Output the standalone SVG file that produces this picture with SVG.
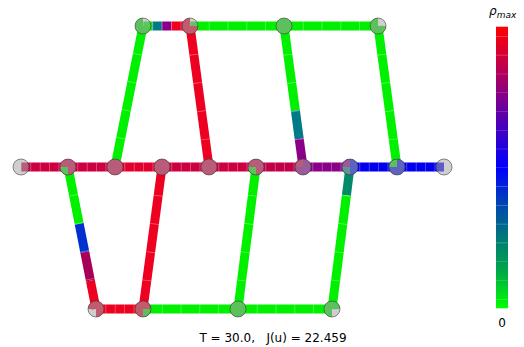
<svg xmlns="http://www.w3.org/2000/svg" width="524" height="347" viewBox="0 0 524 347">
<defs>
<style>
.rd{stroke-width:9;fill:none;stroke-linecap:butt}
.sep{stroke:#ffffff;stroke-opacity:0.35;stroke-width:9;fill:none}
.s47{stroke-dasharray:0.8 8.6}
.s94{stroke-dasharray:0.8 18}
.sv{stroke-dasharray:0.8 27.7}
.nd{fill:#a8a8a8;fill-opacity:0.55;stroke:#404040;stroke-opacity:0.6;stroke-width:1}
.g{stroke:#00f000}.r{stroke:#ee0020}.c{stroke:#cc0040}.p{stroke:#8a0088}.b{stroke:#0000ee}.t{stroke:#007a86}.m{stroke:#a80058}
.fg{fill:#00e000}.fr{fill:#e00028}.fc{fill:#cc0040}.fp{fill:#880088}.fb{fill:#0010e0}.ft{fill:#008070}
.lbl{font-family:"DejaVu Sans",sans-serif;fill:#000}
</style>
<path id="xTR" d="M0,0 L8,0 A8,8 0 1 1 0,-8 Z"/>
<path id="xBL" d="M0,0 L-8,0 A8,8 0 1 1 0,8 Z"/>
<path id="xBR" d="M0,0 L0,8 A8,8 0 1 1 8,0 Z"/>
<path id="qBL" d="M0,0 L0,8 A8,8 0 0 1 -8,0 Z"/>
<path id="qTL" d="M0,0 L-8,0 A8,8 0 0 1 0,-8 Z"/>
<path id="qBR" d="M0,0 L8,0 A8,8 0 0 1 0,8 Z"/>
<linearGradient id="cmap" x1="0" y1="0" x2="0" y2="1">
<stop offset="0" stop-color="#ff0000"/>
<stop offset="0.12" stop-color="#cc0040"/>
<stop offset="0.26" stop-color="#7a0090"/>
<stop offset="0.38" stop-color="#3a00c8"/>
<stop offset="0.5" stop-color="#0000ff"/>
<stop offset="0.62" stop-color="#0040b8"/>
<stop offset="0.75" stop-color="#007878"/>
<stop offset="0.87" stop-color="#00a848"/>
<stop offset="1" stop-color="#00ff00"/>
</linearGradient>
</defs>
<rect width="524" height="347" fill="#ffffff"/>
<g id="connectors">
<line class="rd g" x1="143" y1="26" x2="152.4" y2="26"/>
<line class="rd t" x1="152.4" y1="26" x2="161.8" y2="26"/>
<line class="rd p" x1="161.8" y1="26" x2="171.2" y2="26"/>
<line class="rd r" x1="171.2" y1="26" x2="190" y2="26"/>
<line class="sep s47" x1="143" y1="26" x2="190" y2="26"/>
<line class="rd g" x1="190" y1="26" x2="378" y2="26"/>
<line class="sep s94" x1="190" y1="26" x2="284" y2="26"/>
<line class="sep s94" x1="284" y1="26" x2="378" y2="26"/>
<line class="rd g" x1="143" y1="26" x2="115" y2="167"/>
<line class="sep sv" x1="143" y1="26" x2="115" y2="167"/>
<line class="rd r" x1="190" y1="26" x2="209" y2="167"/>
<line class="sep sv" x1="190" y1="26" x2="209" y2="167"/>
<line class="rd g" x1="284" y1="26" x2="295.4" y2="110.6"/>
<line class="rd t" x1="295.4" y1="110.6" x2="299.2" y2="138.8"/>
<line class="rd p" x1="299.2" y1="138.8" x2="303" y2="167"/>
<line class="sep sv" x1="284" y1="26" x2="303" y2="167"/>
<line class="rd g" x1="378" y1="26" x2="397" y2="167"/>
<line class="sep sv" x1="378" y1="26" x2="397" y2="167"/>
<line class="rd c" x1="21" y1="167" x2="115" y2="167"/>
<line class="rd r" x1="115" y1="167" x2="162" y2="167" style="stroke:#e4002c"/>
<line class="rd c" x1="162" y1="167" x2="256" y2="167"/>
<line class="rd m" x1="256" y1="167" x2="303" y2="167" style="stroke:#c00048"/>
<line class="rd p" x1="303" y1="167" x2="350" y2="167"/>
<line class="rd b" x1="350" y1="167" x2="444" y2="167"/>
<line class="sep s47" x1="21" y1="167" x2="444" y2="167"/>
<line class="rd g" x1="68" y1="167" x2="79.2" y2="223.8"/>
<line class="rd b" x1="79.2" y1="223.8" x2="84.8" y2="252.2" style="stroke:#0030d0"/>
<line class="rd m" x1="84.8" y1="252.2" x2="90.4" y2="280.6"/>
<line class="rd r" x1="90.4" y1="280.6" x2="96" y2="309"/>
<line class="sep sv" x1="68" y1="167" x2="96" y2="309"/>
<line class="rd r" x1="162" y1="167" x2="143" y2="309"/>
<line class="sep sv" x1="162" y1="167" x2="143" y2="309"/>
<line class="rd g" x1="256" y1="167" x2="238" y2="309"/>
<line class="sep sv" x1="256" y1="167" x2="238" y2="309"/>
<line class="rd t" x1="350" y1="167" x2="346.4" y2="195.4" style="stroke:#008a6a"/>
<line class="rd g" x1="346.4" y1="195.4" x2="332" y2="309"/>
<line class="sep sv" x1="350" y1="167" x2="332" y2="309"/>
<line class="rd r" x1="96" y1="309" x2="143" y2="309"/>
<line class="sep s47" x1="96" y1="309" x2="143" y2="309"/>
<line class="rd g" x1="143" y1="309" x2="332" y2="309"/>
<line class="sep s94" x1="143" y1="309" x2="238" y2="309"/>
<line class="sep s94" x1="238" y1="309" x2="332" y2="309"/>
</g>
<g id="t1" transform="translate(143,26)"><use href="#xTR" class="fg"/><circle class="nd" r="8"/></g>
<g id="t2" transform="translate(190,26)"><use href="#xTR" class="fr"/><circle class="nd" r="8"/></g>
<g id="t3" transform="translate(284,26)"><circle r="8" class="fg"/><circle class="nd" r="8"/></g>
<g id="t4" transform="translate(378,26)"><use href="#xTR" class="fg"/><circle class="nd" r="8"/></g>
<g id="m1" transform="translate(21,167)"><circle class="nd" r="8"/></g>
<g id="m2" transform="translate(68,167)"><circle r="8" class="fc"/><use href="#qBL" class="fg"/><circle class="nd" r="8"/></g>
<g id="m3" transform="translate(115,167)"><circle r="8" class="fc"/><circle class="nd" r="8"/></g>
<g id="m4" transform="translate(162,167)"><circle r="8" class="fc"/><circle class="nd" r="8"/></g>
<g id="m5" transform="translate(209,167)"><circle r="8" class="fc"/><circle class="nd" r="8"/></g>
<g id="m6" transform="translate(256,167)"><circle r="8" class="fc"/><use href="#qBL" class="fg"/><circle class="nd" r="8"/></g>
<g id="m7" transform="translate(303,167)"><circle r="8" class="fp"/><use href="#qTL" class="fc"/><circle class="nd" r="8"/></g>
<g id="m8" transform="translate(350,167)"><circle r="8" class="fb"/><use href="#qTL" class="fp"/><use href="#qBL" class="ft"/><circle class="nd" r="8"/></g>
<g id="m9" transform="translate(397,167)"><circle r="8" class="fb"/><use href="#qTL" class="fg"/><circle class="nd" r="8"/></g>
<g id="m10" transform="translate(444,167)"><circle class="nd" r="8"/></g>
<g id="b1" transform="translate(96,309)"><use href="#xBL" class="fr"/><circle class="nd" r="8"/></g>
<g id="b2" transform="translate(143,309)"><circle r="8" class="fr"/><use href="#qBR" class="fg"/><circle class="nd" r="8"/></g>
<g id="b3" transform="translate(238,309)"><circle r="8" class="fg"/><circle class="nd" r="8"/></g>
<g id="b4" transform="translate(332,309)"><use href="#xBR" class="fg"/><circle class="nd" r="8"/></g>
<g id="colorbar">
<rect x="496" y="26.7" width="12" height="281.6" fill="url(#cmap)"/>
<line x1="502" y1="26.7" x2="502" y2="308.3" stroke="#ffffff" stroke-opacity="0.3" stroke-width="12" stroke-dasharray="0 9.387 0.6 8.787"/>
<text class="lbl" x="489" y="15" font-size="12" font-style="italic">ρ<tspan font-size="9" dy="2.5">max</tspan></text>
<text class="lbl" x="502" y="327" font-size="12" text-anchor="middle">0</text>
</g>
<text class="lbl" x="273" y="342" font-size="12" text-anchor="middle" xml:space="preserve">T = 30.0,   J(u) = 22.459</text>
</svg>
